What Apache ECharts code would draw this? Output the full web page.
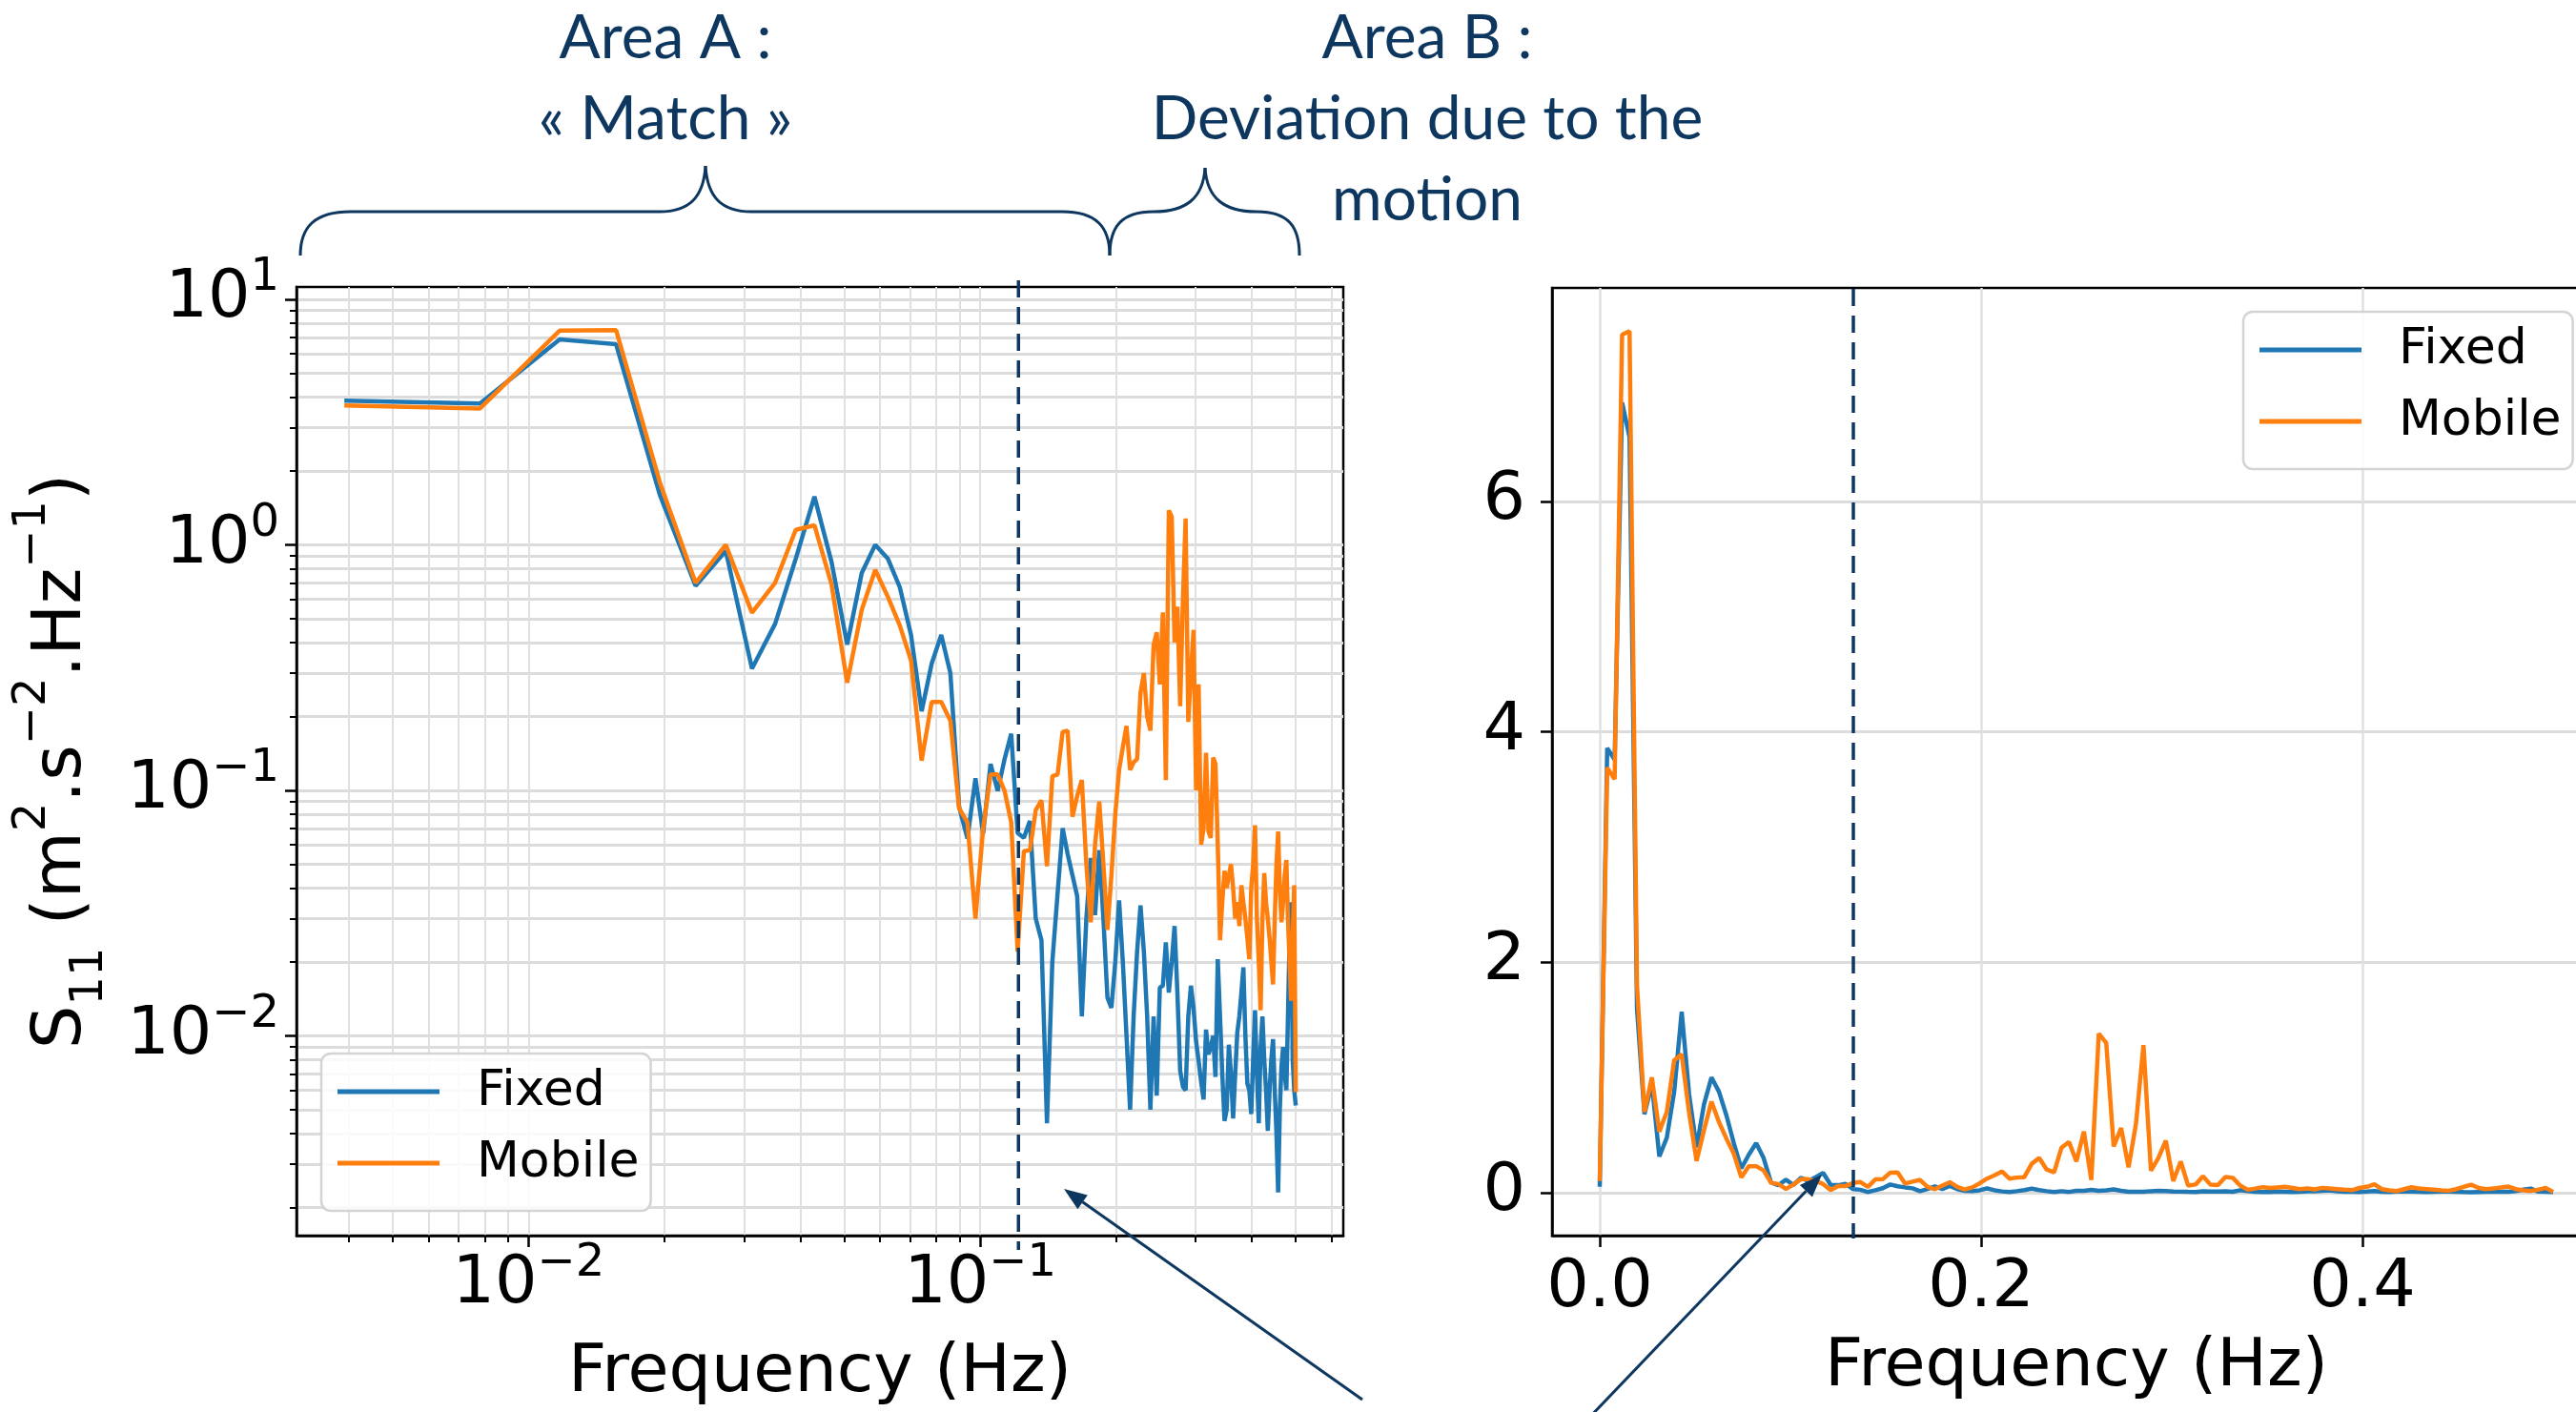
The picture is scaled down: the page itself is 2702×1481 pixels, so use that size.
<!DOCTYPE html>
<html><head><meta charset="utf-8">
<script src="https://cdn.jsdelivr.net/npm/echarts@6/dist/echarts.min.js"></script>
<style>html,body{margin:0;padding:0;background:#fff}#c{width:2702px;height:1481px}</style>
</head><body><div id="c"></div>
<script>
// ---------- DATA ----------
const freqs = [0, 0.00391, 0.00781, 0.01172, 0.01563, 0.01953, 0.02344, 0.02734, 0.03125, 0.03516,
  0.03906, 0.04297, 0.04688, 0.05078, 0.05469, 0.05859, 0.0625, 0.06641, 0.07031, 0.07422,
  0.07813, 0.08203, 0.08594, 0.08984, 0.09375, 0.09766, 0.10156, 0.10547, 0.10938, 0.11328,
  0.11719, 0.12109, 0.125, 0.12891, 0.13281, 0.13672, 0.14063, 0.14453, 0.14844, 0.15234,
  0.15625, 0.16016, 0.16406, 0.16797, 0.17188, 0.17578, 0.17969, 0.18359, 0.1875, 0.19141,
  0.19531, 0.19922, 0.20313, 0.20703, 0.21094, 0.21484, 0.21875, 0.22266, 0.22656, 0.23047,
  0.23438, 0.23828, 0.24219, 0.24609, 0.25, 0.25391, 0.25781, 0.26172, 0.26563, 0.26953,
  0.27344, 0.27734, 0.28125, 0.28516, 0.28906, 0.29297, 0.29688, 0.30078, 0.30469, 0.30859,
  0.3125, 0.31641, 0.32031, 0.32422, 0.32813, 0.33203, 0.33594, 0.33984, 0.34375, 0.34766,
  0.35156, 0.35547, 0.35938, 0.36328, 0.36719, 0.37109, 0.375, 0.37891, 0.38281, 0.38672,
  0.39063, 0.39453, 0.39844, 0.40234, 0.40625, 0.41016, 0.41406, 0.41797, 0.42188, 0.42578,
  0.42969, 0.43359, 0.4375, 0.44141, 0.44531, 0.44922, 0.45313, 0.45703, 0.46094, 0.46484,
  0.46875, 0.47266, 0.47656, 0.48047, 0.48438, 0.48828, 0.49219, 0.49609, 0.5];

const fixedPSD = [0.05, 3.86, 3.76, 6.86, 6.56, 1.6, 0.68, 0.945, 0.313, 0.476,
  0.877, 1.57, 0.851, 0.392, 0.767, 1.0, 0.877, 0.671, 0.429, 0.21,
  0.328, 0.429, 0.30, 0.0857, 0.0637, 0.112, 0.0666, 0.128, 0.0995, 0.134,
  0.170, 0.067, 0.064, 0.075, 0.030, 0.0245, 0.0044, 0.02, 0.038, 0.07,
  0.055, 0.045, 0.037, 0.012, 0.03, 0.053, 0.031, 0.057, 0.03, 0.0143,
  0.013, 0.02, 0.0356, 0.02, 0.01, 0.005, 0.012, 0.022, 0.034, 0.022,
  0.012, 0.005, 0.012, 0.0057, 0.0157, 0.016, 0.024, 0.015, 0.02, 0.028,
  0.015, 0.0072, 0.0062, 0.006, 0.012, 0.016, 0.013, 0.0095, 0.0079, 0.0065,
  0.0055, 0.0106, 0.0084, 0.009, 0.010, 0.0068, 0.0205, 0.012, 0.007, 0.0045,
  0.005, 0.0092, 0.007, 0.0046, 0.007, 0.0103, 0.012, 0.015, 0.019, 0.010,
  0.0064, 0.006, 0.0048, 0.008, 0.0127, 0.007, 0.0044, 0.009, 0.012, 0.008,
  0.006, 0.0041, 0.006, 0.008, 0.0097, 0.006, 0.004, 0.0023, 0.005, 0.0075,
  0.009, 0.007, 0.006, 0.012, 0.025, 0.035, 0.008, 0.006, 0.0052];

const mobilePSD = [0.1, 3.69, 3.59, 7.45, 7.48, 1.8, 0.70, 1.0, 0.529, 0.70,
  1.15, 1.20, 0.69, 0.274, 0.544, 0.79, 0.613, 0.469, 0.338, 0.132,
  0.229, 0.229, 0.192, 0.0845, 0.074, 0.030, 0.07, 0.116, 0.116, 0.0995,
  0.074, 0.022, 0.0565, 0.057, 0.083, 0.091, 0.049, 0.114, 0.116, 0.173,
  0.175, 0.078, 0.095, 0.110, 0.05, 0.029, 0.06, 0.090, 0.05, 0.027,
  0.045, 0.08, 0.121, 0.15, 0.183, 0.121, 0.13, 0.134, 0.25, 0.30,
  0.20, 0.175, 0.39, 0.44, 0.27, 0.53, 0.11, 1.38, 1.30, 0.40,
  0.56, 0.22, 0.6, 1.28, 0.19, 0.3, 0.45, 0.10, 0.27, 0.06,
  0.07, 0.142, 0.068, 0.064, 0.136, 0.128, 0.06, 0.0245, 0.035, 0.047,
  0.04, 0.045, 0.050, 0.04, 0.03, 0.035, 0.028, 0.041, 0.035, 0.03,
  0.025, 0.0205, 0.04, 0.05, 0.072, 0.03, 0.02, 0.0127, 0.03, 0.046,
  0.035, 0.03, 0.025, 0.02, 0.0162, 0.03, 0.05, 0.068, 0.04, 0.029,
  0.035, 0.045, 0.052, 0.03, 0.02, 0.0139, 0.025, 0.041, 0.0059];

const seriesNames = ['Fixed', 'Mobile'];
const logXMajor = [0.01, 0.1];
const logXMinor = [0.004, 0.005, 0.006, 0.007, 0.008, 0.009, 0.02, 0.03, 0.04, 0.05, 0.06, 0.07, 0.08, 0.09, 0.2, 0.3, 0.4, 0.5, 0.6];
const logYMajor = [0.01, 0.1, 1, 10];
const logYMinor = [0.002, 0.003, 0.004, 0.005, 0.006, 0.007, 0.008, 0.009,
  0.02, 0.03, 0.04, 0.05, 0.06, 0.07, 0.08, 0.09,
  0.2, 0.3, 0.4, 0.5, 0.6, 0.7, 0.8, 0.9,
  2, 3, 4, 5, 6, 7, 8, 9];
const linXTicks = [0, 0.2, 0.4];
const linYTicks = [0, 2, 4, 6];
const cutFreqLeft = 0.1216;
const cutFreqRight = 0.133;
const xTitle = 'Frequency (Hz)';
const annotA = ['Area A :', '« Match »'];
const annotB = ['Area B :', 'Deviation due to the', 'motion'];

// ---------- STYLE ----------
const BLUE = '#1f77b4', ORANGE = '#ff7f0e', NAVY = '#0e3760';
const FONT = 'DejaVu Sans';
const gridH = '#dcdcdc', gridV = '#e0e0e0';

const leftFixed = freqs.map((f, i) => [f, fixedPSD[i]]).filter(p => p[0] > 0);
const leftMobile = freqs.map((f, i) => [f, mobilePSD[i]]).filter(p => p[0] > 0);
const rightFixed = freqs.map((f, i) => [f, fixedPSD[i]]);
const rightMobile = freqs.map((f, i) => [f, mobilePSD[i]]);

function powLabel(v) {
  const e = Math.round(Math.log10(v));
  return '{b|10}{s|' + (e < 0 ? '\u2212' + (-e) : String(e)) + '}';
}
const powRich = {
  b: { fontFamily: FONT, fontSize: 70, lineHeight: 92, color: '#000' },
  s: { fontFamily: FONT, fontSize: 48, lineHeight: 48, verticalAlign: 'top', color: '#000' }
};

const LX = [0.003064, 0.6371], LY = [0.001535, 11.22];
const RX = [-0.025, 0.525], RY = [-0.374, 7.856];

const chart = echarts.init(document.getElementById('c'), null, { renderer: 'canvas' });

const option = {
  animation: false,
  backgroundColor: '#fff',
  grid: [
    { left: 311, top: 301, width: 1098, height: 995, show: true, borderColor: '#000', borderWidth: 2.5, backgroundColor: 'transparent', outerBoundsMode: 'none', containLabel: false },
    { left: 1628, top: 302, width: 1100, height: 994, show: true, borderColor: '#000', borderWidth: 2.5, backgroundColor: 'transparent', outerBoundsMode: 'none', containLabel: false }
  ],
  xAxis: [
    { type: 'log', logBase: 10, gridIndex: 0, min: LX[0], max: LX[1],
      axisLine: { show: true, onZero: false, lineStyle: { color: '#000', width: 2.5 } },
      axisTick: { show: true, customValues: logXMajor, length: 12, lineStyle: { color: '#000', width: 2.5 } },
      axisLabel: { customValues: logXMajor, formatter: powLabel, rich: powRich, margin: 6 },
      splitLine: { show: true, lineStyle: { color: gridV, width: 2 } },
      name: xTitle, nameLocation: 'middle', nameGap: 110,
      nameTextStyle: { fontFamily: FONT, fontSize: 70, color: '#000' } },
    { type: 'log', logBase: 10, gridIndex: 0, min: LX[0], max: LX[1], position: 'bottom',
      axisLine: { show: false },
      axisTick: { show: true, customValues: logXMinor, length: 7, lineStyle: { color: '#000', width: 2 } },
      axisLabel: { show: false },
      splitLine: { show: true, lineStyle: { color: gridV, width: 2 } } },
    { type: 'value', gridIndex: 1, min: RX[0], max: RX[1],
      axisLine: { show: true, onZero: false, lineStyle: { color: '#000', width: 2.5 } },
      axisTick: { show: true, customValues: linXTicks, length: 12, lineStyle: { color: '#000', width: 2.5 } },
      axisLabel: { customValues: linXTicks, formatter: v => v.toFixed(1), fontFamily: FONT, fontSize: 70, color: '#000', margin: 16, lineHeight: 80 },
      splitLine: { show: true, lineStyle: { color: gridV, width: 2.5 } },
      name: xTitle, nameLocation: 'middle', nameGap: 104,
      nameTextStyle: { fontFamily: FONT, fontSize: 70, color: '#000' } }
  ],
  yAxis: [
    { type: 'log', logBase: 10, gridIndex: 0, min: LY[0], max: LY[1],
      axisLine: { show: true, onZero: false, lineStyle: { color: '#000', width: 2.5 } },
      axisTick: { show: true, customValues: logYMajor, length: 12, lineStyle: { color: '#000', width: 2.5 } },
      axisLabel: { customValues: logYMajor, formatter: powLabel, rich: powRich, margin: 18 },
      splitLine: { show: true, lineStyle: { color: gridH, width: 3 } },
      name: '{t|S}{sub|11}{t| (m}{sup|2}{t|.s}{sup|\u22122}{t|.Hz}{sup|\u22121}{t|)}',
      nameLocation: 'middle', nameRotate: 90, nameGap: 192,
      nameTextStyle: { rich: {
        t: { fontFamily: FONT, fontSize: 72, lineHeight: 108, color: '#000' },
        sub: { fontFamily: FONT, fontSize: 48, lineHeight: 62, verticalAlign: 'bottom', color: '#000' },
        sup: { fontFamily: FONT, fontSize: 48, lineHeight: 54, verticalAlign: 'top', color: '#000' }
      } } },
    { type: 'log', logBase: 10, gridIndex: 0, min: LY[0], max: LY[1], position: 'left',
      axisLine: { show: false },
      axisTick: { show: true, customValues: logYMinor, length: 7, lineStyle: { color: '#000', width: 2 } },
      axisLabel: { show: false },
      splitLine: { show: true, lineStyle: { color: gridH, width: 3 } } },
    { type: 'value', gridIndex: 1, min: RY[0], max: RY[1],
      axisLine: { show: true, onZero: false, lineStyle: { color: '#000', width: 2.5 } },
      axisTick: { show: true, customValues: linYTicks, length: 12, lineStyle: { color: '#000', width: 2.5 } },
      axisLabel: { customValues: linYTicks, formatter: v => String(Math.round(v)), fontFamily: FONT, fontSize: 70, color: '#000', margin: 28 },
      splitLine: { show: true, lineStyle: { color: gridH, width: 3 } } }
  ],
  legend: [
    { data: seriesNames, orient: 'vertical', left: 337, top: 1105, icon: 'rect', itemWidth: 107, itemHeight: 5, itemGap: 11,
      padding: [8, 12, 18, 17], backgroundColor: 'rgba(255,255,255,0.85)', borderColor: '#d4d4d4', borderWidth: 2.5, borderRadius: 10,
      textStyle: { fontFamily: FONT, fontSize: 52, lineHeight: 64, color: '#000', padding: [0, 0, 0, 34] } },
    { data: seriesNames, orient: 'vertical', left: 2353, top: 327, icon: 'rect', itemWidth: 107, itemHeight: 5, itemGap: 11,
      padding: [8, 12, 18, 17], backgroundColor: 'rgba(255,255,255,0.85)', borderColor: '#d4d4d4', borderWidth: 2.5, borderRadius: 10,
      textStyle: { fontFamily: FONT, fontSize: 52, lineHeight: 64, color: '#000', padding: [0, 0, 0, 34] } }
  ],
  series: [
    { name: 'Fixed', type: 'line', xAxisIndex: 0, yAxisIndex: 0, data: leftFixed, showSymbol: false, symbol: 'none',
      lineStyle: { color: BLUE, width: 4.5 }, itemStyle: { color: BLUE }, z: 3 },
    { name: 'Mobile', type: 'line', xAxisIndex: 0, yAxisIndex: 0, data: leftMobile, showSymbol: false, symbol: 'none',
      lineStyle: { color: ORANGE, width: 4.5 }, itemStyle: { color: ORANGE }, z: 4 },
    { name: 'Fixed', type: 'line', xAxisIndex: 2, yAxisIndex: 2, data: rightFixed, showSymbol: false, symbol: 'none',
      lineStyle: { color: BLUE, width: 4.5 }, itemStyle: { color: BLUE }, z: 3 },
    { name: 'Mobile', type: 'line', xAxisIndex: 2, yAxisIndex: 2, data: rightMobile, showSymbol: false, symbol: 'none',
      lineStyle: { color: ORANGE, width: 4.5 }, itemStyle: { color: ORANGE }, z: 4 }
  ]
};
chart.setOption(option);

// ---------- ANNOTATIONS ----------
const g = [];
const annFont = '64px Lato';
const stroke = { stroke: NAVY, lineWidth: 3, fill: null };
function addText(txt, x, y) {
  g.push({ type: 'text', x: x, y: y, z: 100,
    style: { text: txt, font: annFont, fill: NAVY, align: 'center', verticalAlign: 'middle' } });
}
annotA.forEach((t, i) => addText(t, 698, 40 + i * 85));
annotB.forEach((t, i) => addText(t, 1497, 40 + i * 85));

function bez(x1, y1, c1x, c1y, c2x, c2y, x2, y2) {
  g.push({ type: 'bezierCurve', z: 100, shape: { x1: x1, y1: y1, cpx1: c1x, cpy1: c1y, cpx2: c2x, cpy2: c2y, x2: x2, y2: y2 }, style: Object.assign({}, stroke) });
}
function seg(x1, y1, x2, y2) {
  g.push({ type: 'line', z: 100, shape: { x1: x1, y1: y1, x2: x2, y2: y2 }, style: Object.assign({}, stroke) });
}
// brace over area A
bez(315, 268, 315, 238, 330, 222, 368, 222);
seg(368, 222, 692, 222);
bez(692, 222, 722, 222, 738, 208, 740, 174);
bez(740, 174, 742, 208, 758, 222, 788, 222);
seg(788, 222, 1114, 222);
bez(1114, 222, 1150, 222, 1164, 238, 1164, 268);
// brace over area B
bez(1164, 268, 1164, 238, 1176, 222, 1210, 222);
bez(1210, 222, 1244, 222, 1262, 208, 1264, 176);
bez(1264, 176, 1266, 208, 1284, 222, 1318, 222);
bez(1318, 222, 1352, 222, 1363, 238, 1363, 268);

// dashed cut-off lines positioned through the axes
const xl = chart.convertToPixel({ xAxisIndex: 0 }, cutFreqLeft);
const xr = chart.convertToPixel({ xAxisIndex: 2 }, cutFreqRight);
g.push({ type: 'line', z: 100, shape: { x1: xl, y1: 294, x2: xl, y2: 1311 },
  style: { stroke: NAVY, lineWidth: 3.5, lineDash: [18, 10] } });
g.push({ type: 'line', z: 100, shape: { x1: xr, y1: 303, x2: xr, y2: 1299 },
  style: { stroke: NAVY, lineWidth: 3.5, lineDash: [18, 10] } });

function arrow(x1, y1, x2, y2) {
  const a = Math.atan2(y2 - y1, x2 - x1), L = 24, W = 9;
  const bx = x2 - L * Math.cos(a), by = y2 - L * Math.sin(a);
  g.push({ type: 'line', z: 100, shape: { x1: x1, y1: y1, x2: bx, y2: by }, style: { stroke: NAVY, lineWidth: 3 } });
  g.push({ type: 'polygon', z: 100, shape: { points: [[x2, y2], [bx + W * Math.sin(a), by - W * Math.cos(a)], [bx - W * Math.sin(a), by + W * Math.cos(a)]] },
    style: { fill: NAVY } });
}
arrow(1429, 1468, 1116, 1247);
arrow(1664, 1490, 1911, 1232);

chart.setOption({ graphic: g });
</script>
</body></html>
